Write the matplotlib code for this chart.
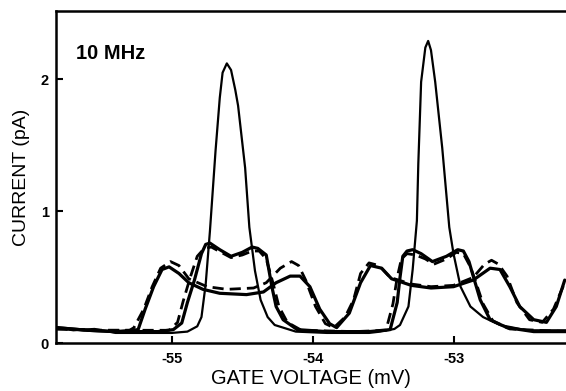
import matplotlib
matplotlib.use("Agg")
import matplotlib.pyplot as plt

plt.rcParams['font.family'] = ['Liberation Sans', 'DejaVu Sans']

# gate voltage (mV) / current (pA)
thin_x = [-55.82, -55.70, -55.55, -55.40, -55.20, -55.00, -54.89, -54.82, -54.79, -54.76,
          -54.73, -54.69, -54.66, -54.64, -54.61, -54.58, -54.55, -54.53, -54.48, -54.45,
          -54.41, -54.37, -54.32, -54.27, -54.12, -53.90, -53.60, -53.52, -53.42, -53.38,
          -53.32, -53.29, -53.26, -53.25, -53.23, -53.20, -53.18, -53.16, -53.13, -53.08,
          -53.03, -53.00, -52.95, -52.88, -52.79, -52.67, -52.48, -52.20]
thin_y = [0.12, 0.10, 0.11, 0.08, 0.08, 0.08, 0.09, 0.13, 0.20, 0.45,
          0.85, 1.46, 1.86, 2.05, 2.12, 2.07, 1.92, 1.80, 1.33, 0.88,
          0.55, 0.33, 0.20, 0.14, 0.09, 0.08, 0.08, 0.09, 0.11, 0.14,
          0.28, 0.56, 0.93, 1.36, 1.98, 2.24, 2.29, 2.22, 1.98, 1.48,
          0.88, 0.68, 0.43, 0.28, 0.20, 0.14, 0.10, 0.10]

mid_x = [-55.82, -55.60, -55.40, -55.10, -54.99, -54.93, -54.89, -54.84, -54.79, -54.76,
         -54.73, -54.66, -54.58, -54.50, -54.43, -54.39, -54.33, -54.29, -54.26, -54.21,
         -54.11, -53.90, -53.60, -53.45, -53.40, -53.38, -53.36, -53.33, -53.29, -53.23,
         -53.15, -53.05, -52.97, -52.93, -52.89, -52.86, -52.81, -52.74, -52.62, -52.43, -52.20]
mid_y = [0.12, 0.10, 0.09, 0.09, 0.105, 0.155, 0.31, 0.48, 0.68, 0.75,
         0.76, 0.71, 0.66, 0.69, 0.73, 0.72, 0.67, 0.43, 0.28, 0.18,
         0.105, 0.09, 0.09, 0.105, 0.31, 0.50, 0.66, 0.70, 0.71, 0.68,
         0.62, 0.66, 0.71, 0.70, 0.62, 0.51, 0.33, 0.18, 0.12, 0.09, 0.09]

mid_dash_x = [-55.82, -55.50, -55.02, -54.96, -54.92, -54.87, -54.82, -54.77, -54.72, -54.65,
              -54.58, -54.50, -54.43, -54.38, -54.33, -54.28, -54.24, -54.18, -54.08, -53.70,
              -53.48, -53.43, -53.40, -53.37, -53.33, -53.27, -53.20, -53.14, -53.05, -52.98,
              -52.93, -52.88, -52.84, -52.79, -52.72, -52.60, -52.20]
mid_dash_y = [0.11, 0.10, 0.10, 0.16, 0.32, 0.50, 0.66, 0.72, 0.73, 0.69,
              0.65, 0.67, 0.70, 0.70, 0.64, 0.45, 0.28, 0.16, 0.10, 0.09,
              0.10, 0.30, 0.50, 0.64, 0.68, 0.67, 0.64, 0.60, 0.64, 0.69,
              0.68, 0.58, 0.46, 0.30, 0.17, 0.11, 0.09]

wide_x = [-55.82, -55.60, -55.40, -55.28, -55.24, -55.19, -55.13, -55.07, -55.02, -54.95,
          -54.88, -54.78, -54.66, -54.47, -54.35, -54.26, -54.16, -54.09, -54.02, -53.95,
          -53.88, -53.83, -53.74, -53.66, -53.59, -53.51, -53.44, -53.30, -53.16, -53.00,
          -52.86, -52.74, -52.67, -52.60, -52.53, -52.43, -52.34, -52.27, -52.21]
wide_y = [0.12, 0.10, 0.09, 0.10, 0.105, 0.26, 0.43, 0.56, 0.58, 0.53,
          0.46, 0.41, 0.38, 0.37, 0.39, 0.46, 0.51, 0.51, 0.43, 0.26,
          0.15, 0.12, 0.23, 0.46, 0.59, 0.57, 0.49, 0.44, 0.42, 0.43,
          0.48, 0.57, 0.56, 0.43, 0.28, 0.18, 0.16, 0.28, 0.48]

wide_dash_x = [-55.82, -55.50, -55.30, -55.27, -55.20, -55.14, -55.08, -55.01, -54.95, -54.88,
               -54.75, -54.61, -54.42, -54.33, -54.23, -54.15, -54.10, -54.05, -53.98, -53.91,
               -53.85, -53.77, -53.71, -53.66, -53.60, -53.53, -53.45, -53.30, -53.16, -53.00,
               -52.86, -52.78, -52.73, -52.68, -52.62, -52.55, -52.46, -52.37, -52.29, -52.21]
wide_dash_y = [0.11, 0.10, 0.10, 0.12, 0.26, 0.43, 0.57, 0.62, 0.59, 0.49,
               0.43, 0.41, 0.42, 0.46, 0.57, 0.62, 0.59, 0.48, 0.28, 0.15,
               0.12, 0.20, 0.33, 0.53, 0.61, 0.59, 0.50, 0.45, 0.43, 0.44,
               0.50, 0.60, 0.63, 0.60, 0.51, 0.31, 0.18, 0.16, 0.26, 0.46]

xticks = [-55, -54, -53]
xticklabels = ['-55', '-54', '-53']
yticks = [0, 1, 2]

fig = plt.figure(figsize=(5.66, 3.91), dpi=100)
ax = fig.add_axes([0.099, 0.1215, 0.901, 0.8515])

kw = dict(color='black', solid_joinstyle='round', solid_capstyle='round')
ax.plot(wide_x, wide_y, lw=2.3, **kw)
ax.plot(mid_x, mid_y, lw=2.3, **kw)
ax.plot(thin_x, thin_y, lw=1.6, **kw)
ax.plot(wide_dash_x, wide_dash_y, lw=2.0, color='black', linestyle=(0, (4, 2.2)))
ax.plot(mid_dash_x, mid_dash_y, lw=2.0, color='black', linestyle=(0, (4, 2.2)))

ax.set_xlim(-55.823, -52.201)
ax.set_ylim(0, 2.52)

ax.spines['right'].set_visible(False)
for s in ['left', 'top', 'bottom']:
    ax.spines[s].set_linewidth(1.8)

ax.set_xticks(xticks)
ax.set_xticklabels(xticklabels)
ax.set_yticks(yticks)
ax.tick_params(direction='in', length=5, width=1.5, labelsize=10.5)
ax.tick_params(axis='x', pad=6)
ax.tick_params(axis='y', pad=5)
for lab in ax.get_xticklabels() + ax.get_yticklabels():
    lab.set_fontweight('bold')

ax.set_xlabel('GATE VOLTAGE (mV)', fontsize=14.5, labelpad=2)
ax.set_ylabel('CURRENT (pA)', fontsize=14, labelpad=8)
ax.text(0.04, 0.87, '10 MHz', transform=ax.transAxes, fontsize=14.5,
        fontweight='bold', va='center', ha='left')

fig.savefig('out.png', dpi=100)
